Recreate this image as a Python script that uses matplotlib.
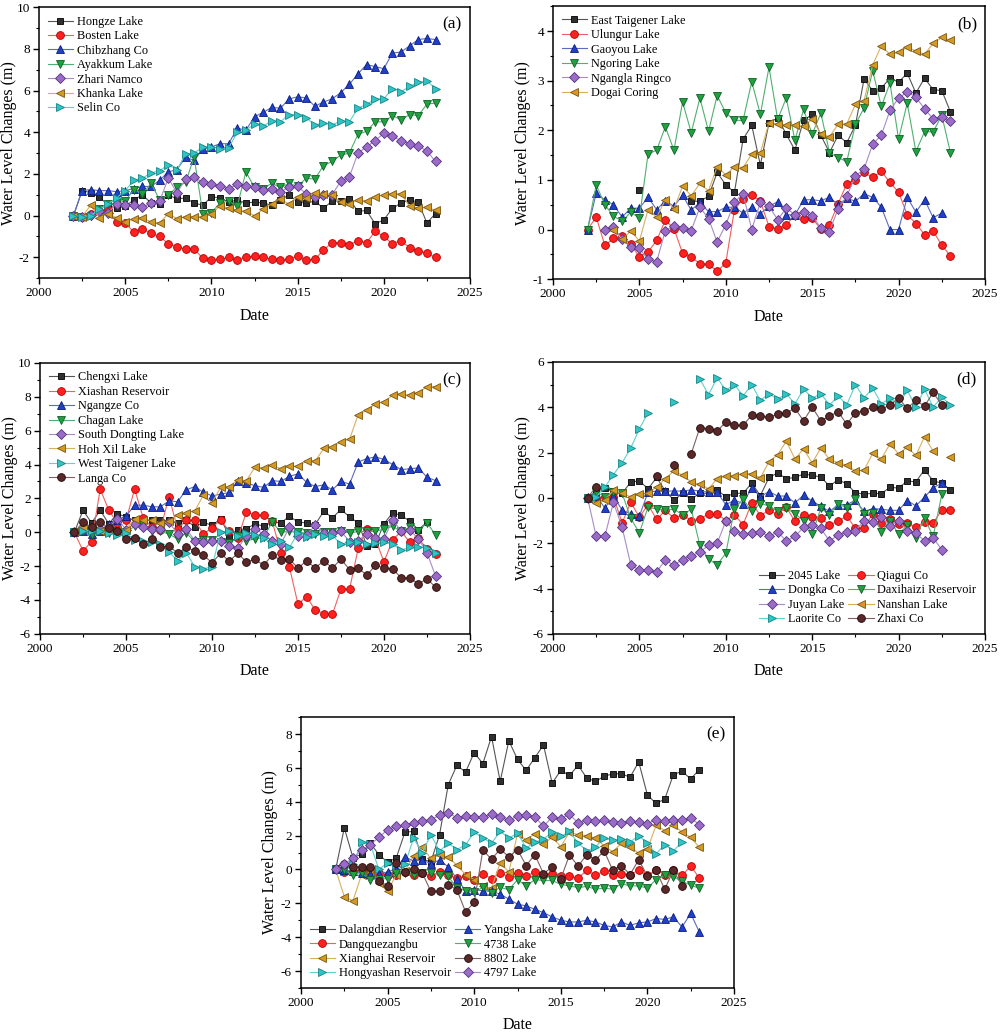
import numpy as np
import matplotlib
matplotlib.use('Agg')
import matplotlib.pyplot as plt
from matplotlib.ticker import MultipleLocator

plt.rcParams['font.family'] = 'serif'
plt.rcParams['font.serif'] = ['Liberation Serif', 'DejaVu Serif']
plt.rcParams['axes.unicode_minus'] = False

nan = np.nan
# half-yearly sampling, 2002.0 .. 2023.0 (43 points); rows below hold 5 years each
years = np.arange(2002, 2023.01, 0.5)

# ---------------- panel (a) ----------------
hongze = [0, 1.2, 1.1, 0.9, 0.5, 0.35, 0.45, 0.75, 1.0, 0.6,
          0.55, 1.0, 0.8, 0.85, 0.6, 0.5, 0.9, 0.85, 0.65, 0.75,
          0.6, 0.65, 0.6, 0.5, 0.75, 1.0, 0.65, 0.6, 0.7, 0.35,
          0.7, 0.7, 0.8, 0.2, 0.25, -0.4, -0.2, 0.35, 0.6, 0.75,
          0.65, -0.35, 0.1]
bosten = [0, -0.05, 0.1, 0.2, 0.3, -0.3, -0.35, -0.8, -0.65, -0.85,
          -1.0, -1.35, -1.5, -1.6, -1.6, -2.05, -2.15, -2.1, -2.0, -2.15,
          -2.0, -1.95, -2.0, -2.1, -2.15, -2.1, -1.95, -2.15, -2.1, -1.65,
          -1.3, -1.3, -1.4, -1.2, -1.3, -0.75, -1.0, -1.35, -1.2, -1.55,
          -1.7, -1.8, -2.0]
chibzhang = [0, 1.2, 1.25, 1.2, 1.2, 1.15, 1.2, 1.3, 1.4, 1.4,
             1.7, 2.1, 2.2, 2.8, 2.65, 3.2, 3.3, 3.45, 3.45, 4.2,
             4.1, 4.75, 4.95, 5.2, 5.15, 5.6, 5.7, 5.65, 5.25, 5.45,
             5.6, 5.9, 6.3, 6.8, 7.25, 7.15, 7.05, 7.8, 7.85, 8.15,
             8.45, 8.5, 8.45]
ayakkum = [0, -0.05, 0.0, 0.3, 0.55, 0.6, 0.7, 1.25, 1.05, 1.55,
           0.75, 1.0, 1.35, 1.6, 2.8, 0.1, 0.15, 0.6, 0.7, 0.45,
           2.1, 1.35, 1.3, 1.55, 1.35, 1.55, 1.4, 1.8, 1.75, 2.4,
           2.6, 2.9, 3.0, 3.9, 4.05, 4.5, 4.5, 4.8, 4.6, 4.85,
           4.8, 5.35, 5.4]
zhari = [0, -0.05, 0.05, 0.2, 0.15, 0.55, 0.5, 0.5, 0.4, 0.6,
         0.7, 1.8, 1.1, 1.75, 1.85, 1.6, 1.5, 1.4, 1.3, 1.5,
         1.4, 1.35, 1.25, 1.3, 1.15, 1.35, 1.4, 1.05, 0.9, 1.0,
         1.0, 1.65, 1.85, 3.0, 3.3, 3.6, 3.95, 3.8, 3.6, 3.45,
         3.35, 3.1, 2.6]
khanka = [0, -0.05, 0.5, -0.1, 0.1, -0.1, -0.3, -0.15, -0.1, -0.3,
          -0.35, 0.1, -0.15, -0.05, -0.05, -0.05, 0.1, 0.45, 0.35, 0.25,
          0.2, 0.0, 0.3, 0.55, 0.8, 0.55, 0.9, 0.85, 1.1, 1.05,
          1.0, 0.65, 0.55, 0.75, 0.7, 0.9, 1.0, 1.05, 1.05, 0.45,
          0.35, 0.4, 0.25]
selin = [0, -0.05, 0.0, 0.3, 0.55, 0.85, 1.2, 1.7, 1.8, 2.05,
         2.15, 2.45, 2.2, 2.95, 3.0, 3.3, 3.3, 3.2, 3.25, 4.0,
         4.1, 4.4, 4.3, 4.55, 4.5, 4.85, 4.85, 4.7, 4.35, 4.45,
         4.35, 4.55, 4.5, 5.15, 5.35, 5.6, 5.6, 6.1, 5.95, 6.2,
         6.4, 6.45, 6.1]

# ---------------- panel (b) ----------------
east_taigener = [0, nan, nan, nan, nan, nan, 0.8, nan, nan, nan,
                 nan, nan, 0.57, 0.57, 0.67, 1.15, 0.9, 0.75, 1.82, 2.1,
                 1.3, 2.15, 2.25, 1.92, 1.6, 2.2, 2.32, 1.9, 1.55, 1.9,
                 1.75, 2.1, 3.03, 2.8, 2.85, 3.05, 2.97, 3.15, 2.75, 3.05,
                 2.82, 2.8, 2.37]
ulungur = [0, 0.25, -0.32, -0.18, -0.13, -0.3, -0.55, -0.45, -0.22, 0.19,
           0.02, -0.48, -0.55, -0.69, -0.7, -0.84, -0.67, 0.4, 0.62, 0.7,
           0.57, 0.06, 0.01, 0.09, 0.3, 0.22, 0.23, 0.01, 0.1, 0.52,
           0.92, 1.0, 1.15, 1.05, 1.17, 0.95, 0.75, 0.3, 0.12, -0.1,
           -0.03, -0.32, -0.53]
gaoyou = [0, 0.73, 0.6, 0.5, 0.25, 0.43, 0.43, 0.65, 0.4, 0.58,
          0.47, 0.69, 0.39, 0.55, 0.36, 0.36, 0.45, 0.45, 0.33, 0.45,
          0.32, 0.47, 0.56, 0.3, 0.29, 0.6, 0.6, 0.58, 0.65, 0.5,
          0.63, 0.57, 0.72, 0.65, 0.45, 0.0, 0.0, 0.65, 0.35, 0.6,
          0.24, 0.33, nan]
ngoring = [0, 0.9, 0.5, 0.27, 0.17, 0.35, 0.23, 1.52, 1.6, 2.07,
           1.6, 2.57, 1.95, 2.65, 1.98, 2.7, 2.35, 2.2, 2.2, 2.98,
           2.32, 3.27, 2.22, 2.65, 1.8, 2.42, 1.92, 2.35, 1.55, 1.45,
           1.37, 2.12, 2.45, 3.2, 2.48, 2.95, 1.82, 2.55, 1.57, 1.97,
           1.97, 2.3, 1.55]
ngangla = [nan, nan, 0.0, 0.05, -0.2, -0.35, -0.38, -0.6, -0.65, -0.02,
           0.08, 0.04, -0.02, 0.45, 0.22, -0.25, 0.1, 0.55, 0.72, 0.0,
           0.55, 0.47, 0.2, 0.43, 0.3, 0.35, 0.28, 0.03, -0.04, 0.42,
           0.67, 1.08, 1.22, 1.72, 1.9, 2.4, 2.65, 2.77, 2.67, 2.43,
           2.23, 2.27, 2.18]
dogai = [nan, nan, nan, 0.0, -0.2, -0.03, -0.23, 0.4, 0.25, 0.6,
         0.42, 0.87, 0.68, 0.93, 0.78, 1.27, 1.1, 1.27, 1.25, 1.52,
         1.55, 2.15, 2.13, 2.1, 2.1, 2.08, 2.22, 1.93, 1.87, 2.12,
         2.13, 2.52, 2.6, 3.32, 3.7, 3.53, 3.57, 3.67, 3.6, 3.53,
         3.75, 3.87, 3.82]

# ---------------- panel (c) ----------------
chengxi = [0, 1.3, 0.55, 1.3, 0.5, 1.1, 0.9, 0.7, 0.75, 0.7,
           0.7, 0.7, 0.55, 0.75, 0.3, 0.6, 0.4, 0.8, -0.2, 0.15,
           0.2, 0.5, 0.35, 0.6, 0.55, 0.95, 0.6, 0.55, 0.45, 1.25,
           0.85, 1.35, 0.9, 0.55, -0.8, -0.7, 0.5, 1.15, 1.0, 0.65,
           0.15, 0.6, nan]
xiashan = [0, -1.1, -0.55, 2.55, 1.3, 0.55, 0.7, 2.55, 0.85, 0.3,
           0.15, 2.1, 0.2, 0.7, 0.7, -0.1, 0.25, 0.75, 0.05, -0.35,
           1.2, 1.0, 1.0, 0.65, -1.2, -2.05, -4.25, -3.8, -4.6, -4.8,
           -4.85, -3.35, -3.35, -0.95, 0.2, -0.4, -1.75, -0.45, 0.05, -0.6,
           -0.35, -1.0, -1.3]
ngangze = [0, 0.05, -0.1, 0.1, 0.5, 0.75, 0.95, 1.6, 1.6, 1.5,
           1.5, 1.85, 1.8, 2.5, 2.7, 2.35, 2.15, 2.25, 2.35, 3.0,
           2.9, 2.75, 2.65, 3.05, 3.0, 3.3, 3.45, 2.95, 2.7, 2.8,
           2.5, 3.0, 2.85, 4.15, 4.35, 4.45, 4.3, 4.0, 3.7, 3.75,
           3.8, 3.25, 3.05]
chagan = [0, 0.05, -0.15, 0.05, -0.05, 0.1, 0.0, 0.35, 0.4, 0.05,
          0.05, -0.1, -0.4, -0.05, -0.55, -0.45, -0.45, -0.55, -0.65, -0.25,
          -0.5, -0.4, -0.3, 0.6, 0.0, 0.05, 0.0, -0.05, -0.1, 0.0,
          0.0, 0.1, -0.05, 0.05, 0.05, 0.05, 0.2, 0.35, 0.05, 0.3,
          0.05, 0.55, -0.15]
dongting = [0, 0.2, 0.2, 0.2, 0.3, 0.8, 0.15, 0.5, 0.3, 0.2,
            0.2, 0.6, -0.1, 0.2, -0.5, -0.6, -0.5, -0.5, -0.8, -0.95,
            -0.2, 0.2, -0.1, -0.5, -0.7, 0.3, -0.25, -0.15, 0.4, -0.05,
            -0.05, 0.05, -0.55, -0.5, -0.1, -0.35, -0.4, 0.75, 0.05, 0.15,
            -0.4, -1.2, -2.6]
hohxil = [0, 0.3, 0.25, 0.05, 0.2, 0.15, 0.15, 0.8, 0.7, 0.7,
          0.55, 0.65, 1.0, 1.15, 1.25, 2.2, 1.75, 2.65, 2.7, 3.1,
          3.05, 3.85, 3.8, 3.95, 3.75, 3.9, 3.9, 4.2, 4.2, 4.95,
          5.05, 5.35, 5.5, 6.95, 7.2, 7.6, 7.7, 8.1, 8.15, 8.1,
          8.25, 8.6, 8.6]
west_taigener = [0, 0.1, 0.1, 0.05, -0.05, -0.15, -0.05, -0.45, -0.5, -0.6,
                 -0.7, -1.15, -1.7, -1.2, -2.05, -2.15, -2.05, 0.0, 0.1, -0.25,
                 -0.05, -0.15, -0.35, -0.7, -0.5, -0.9, -0.05, -0.3, -0.1, -0.2,
                 -0.2, -0.7, -0.6, -0.55, -0.7, -0.65, -0.6, -0.7, -1.05, -0.9,
                 -0.85, -0.95, -1.2]
langa = [0, 0.6, 0.3, 0.6, 0.25, 0.1, -0.4, -0.35, -0.7, -0.4,
         -0.9, -0.8, -1.25, -0.9, -1.1, -1.35, -1.8, -1.25, -1.7, -1.25,
         -1.75, -1.6, -1.95, -1.35, -1.65, -1.6, -2.1, -1.7, -2.1, -1.7,
         -2.1, -1.6, -2.2, -2.1, -2.55, -1.95, -2.1, -2.15, -2.7, -2.7,
         -3.05, -2.75, -3.25]

# ---------------- panel (d) ----------------
lake2045 = [0, 0.25, 0.45, 0.3, 0.2, 0.7, 0.75, 0.4, 0.9, 0.3,
            -0.1, 0.2, -0.05, 0.2, 0.2, 0.35, 0.05, 0.2, 0.2, 0.65,
            0.1, 0.9, 1.1, 0.85, 0.9, 1.05, 1.0, 0.92, 0.52, 0.8,
            0.62, 0.22, 0.17, 0.2, 0.18, 0.47, 0.43, 0.75, 0.7, 1.25,
            0.75, 0.65, 0.35]
qiagui = [0, 0.0, 0.05, 0.05, -1.1, -0.2, -0.85, -0.3, -0.95, -0.55,
          -0.9, -0.75, -1.0, -0.95, -0.7, -0.7, -1.0, -0.75, -1.18, -0.22,
          -0.78, -0.55, -0.73, -0.41, -1.03, -0.75, -0.84, -0.9, -1.19, -1.04,
          -0.8, -1.35, -1.32, -0.7, -1.1, -0.95, -1.15, -1.1, -1.3, -1.05,
          -1.1, -0.55, -0.55]
dongka = [0, 0.1, -0.45, 0.1, -0.55, -0.7, -0.8, 0.25, 0.3, 0.3,
          0.3, 0.3, 0.35, 0.3, 0.25, 0.25, -0.3, -0.1, -0.25, 0.45,
          0.05, 0.28, 0.08, 0.08, -0.22, 0.12, -0.14, -0.37, -0.6, -0.3,
          -0.3, -0.1, -0.6, -0.47, -0.5, -0.55, -0.55, -0.12, -0.35, 0.03,
          0.45, 0.65, nan]
daxihaizi = [0, 0.25, 0.05, 0.25, 0.2, -0.9, -1.55, -0.4, -0.5, -0.55,
             -0.5, -0.75, -0.5, -2.1, -2.7, -2.95, -2.45, -0.5, -0.05, -0.6,
             -0.25, -0.35, -0.6, -0.45, -0.7, -1.0, -1.6, -0.45, -0.75, -0.25,
             -0.45, -0.05, -0.7, -0.65, -1.5, -1.0, -1.6, -1.2, -1.75, -0.9,
             -1.7, 0.15, nan]
juyan = [0, -1.7, -1.7, -0.2, -1.3, -2.95, -3.2, -3.2, -3.25, -2.75,
         -2.97, -2.72, -2.55, -2.4, -2.08, -2.0, -1.03, -1.45, -1.6, -1.55,
         -1.5, -1.7, -1.5, -1.9, -1.7, -1.3, -1.2, -1.35, -1.9, -1.65,
         -1.5, -1.45, -1.0, -1.05, -0.85, -1.25, -1.0, -1.45, -1.55, -1.9,
         -1.75, -2.3, nan]
nanshan = [0, -0.22, -0.1, 0.35, 0.2, 0.05, 0.15, 0.2, 0.5, 0.85,
           1.2, 1.0, 0.7, 0.6, 0.4, 0.85, 0.95, 0.98, 1.07, 1.07,
           0.88, 1.6, 1.9, 2.5, 1.72, 2.16, 1.54, 2.2, 1.7, 1.55,
           1.44, 1.18, 1.22, 1.96, 1.72, 2.38, 1.94, 2.24, 1.87, 2.7,
           2.06, nan, 1.8]
laorite = [0, 0.05, 0.47, 1.03, 1.55, 2.2, 3.05, 3.75, nan, nan,
           4.25, nan, nan, 5.25, 4.55, 5.3, 4.75, 5.0, 4.5, 5.0,
           4.3, 4.6, 4.35, 4.6, 4.15, 4.8, 4.4, 4.6, 4.1, 4.5,
           4.1, 5.0, 4.4, 4.85, 4.15, 4.4, 4.1, 4.75, 4.0, 4.8,
           4.0, 4.45, 4.1]
zhaxi = [0, 0.5, nan, nan, nan, nan, nan, nan, 0.95, nan,
         1.45, nan, 1.95, 3.1, 3.05, 2.95, 3.35, 3.2, 3.2, 3.65,
         3.6, 3.55, 3.7, 3.75, 3.95, 3.4, 4.0, 3.4, 3.6, 3.8,
         3.25, 3.75, 3.85, 4.0, 3.9, 4.1, 4.4, 3.95, 4.3, 4.05,
         4.65, 4.1, nan]

# ---------------- panel (e) ----------------
dalangdian = [0, 2.45, 0.7, 0.9, 1.55, 0.87, 0.43, 0.68, 2.2, 2.25,
              0.6, 0.45, 2.05, 5.0, 6.15, 5.75, 6.9, 6.25, 7.85, 5.2,
              7.6, 6.5, 5.85, 6.6, 7.35, 5.1, 5.85, 5.55, 6.15, 5.4,
              5.2, 5.5, 5.65, 5.65, 5.45, 6.35, 4.4, 3.9, 4.15, 5.6,
              5.8, 5.35, 5.9]
dangque = [0, -0.15, -0.1, -0.05, -0.15, -0.2, -0.3, -0.3, -0.15, -0.3,
           -0.2, -0.4, -0.15, -0.35, -0.5, -0.4, -0.6, -0.25, -0.55, -0.2,
           -0.45, -0.2, -0.4, -0.15, -0.3, -0.25, -0.4, -0.4, -0.5, -0.05,
           -0.35, -0.1, -0.35, -0.25, -0.3, -0.05, -0.35, -0.05, -0.3, -0.05,
           -0.35, 0.2, -0.5]
xianghai = [0, -1.6, -1.85, -0.3, -0.15, -0.8, -1.3, -0.3, -0.1, 0.8,
            1.3, 0.65, 0.85, 0.75, 0.25, -0.3, -0.6, -1.0, -1.1, 0.4,
            -0.15, 2.1, 1.75, 2.1, 1.5, 1.9, 1.35, 2.2, 2.05, 2.0,
            1.85, 1.4, 1.05, 1.55, 1.35, 0.95, 1.2, 2.6, 2.3, 2.65,
            2.2, 1.9, 1.3]
hongyashan = [0, -0.1, 0.3, 1.65, 1.5, 0.0, 0.4, 0.05, 0.3, 1.85,
              1.0, 2.05, 1.08, 1.55, 1.17, 1.45, 2.2, 1.85, 1.55, 2.25,
              1.85, 2.15, 1.27, 1.6, 1.8, 2.2, 1.95, 2.25, 1.55, 1.1,
              1.33, 1.85, 1.72, 1.8, 1.62, 2.0, 1.55, 0.92, 1.46, 1.1,
              1.62, nan, nan]
yangsha = [0, -0.05, -0.1, -0.2, -0.25, -0.25, -0.15, 0.05, 0.75, 0.5,
           0.55, 0.35, 0.55, 0.15, -0.55, -1.25, -1.2, -1.25, -1.3, -1.45,
           -1.75, -2.05, -2.15, -2.35, -2.55, -2.8, -3.0, -3.1, -3.1, -3.0,
           -3.1, -3.3, -3.4, -3.1, -3.3, -3.15, -3.1, -2.9, -2.95, -2.8,
           -3.4, -2.6, -3.7]
lake4738 = [0, -0.05, -0.35, -0.2, -0.6, -0.55, -0.55, -0.2, -0.2, -0.3,
            -0.2, -0.2, -0.3, -0.4, -1.1, -1.25, -1.35, -1.05, -1.4, -1.05,
            -1.2, -0.6, -0.97, -0.6, -0.65, -0.65, -0.88, -0.97, -1.07, -1.0,
            -1.17, -1.1, -1.17, -0.84, -0.97, -0.97, -1.1, -0.6, -0.35, -0.45,
            -0.68, -0.94, -1.1]
lake8802 = [0, 0.3, 0.15, 0.15, 0.15, -0.7, -0.95, 0.4, -0.15, 0.05,
            -0.2, -1.3, -1.3, -0.9, -1.2, -2.5, -1.95, 1.15, 0.6, 1.2,
            0.75, 1.17, 0.23, 0.88, -0.25, 0.15, -0.55, 0.85, 0.2, 0.88,
            0.55, 1.1, -0.05, 0.23, -0.3, 0.58, -0.4, -0.05, -1.17, -0.05,
            -0.97, nan, nan]
lake4797 = [0, 0.3, 0.68, 1.13, 1.45, 1.9, 2.35, 2.55, 2.65, 2.75,
            2.85, 2.95, 3.2, 3.35, 3.05, 3.15, 3.1, 3.1, 3.25, 3.1,
            2.9, 3.15, 3.2, 3.1, 2.55, 3.1, 3.0, 3.25, 2.75, 2.95,
            2.85, 2.9, 2.8, 2.75, 2.85, 2.8, 2.7, 2.95, 2.85, 2.95,
            2.9, 3.05, 2.65]

# marker face, marker edge, line colour
COLORS = {
    'k': ('#2f2f2f', '#000000', '#555555'),
    'r': ('#ff2020', '#b00000', '#f06060'),
    'b': ('#2040c8', '#0c1c80', '#5a6cc0'),
    'g': ('#20a040', '#0c6024', '#50b070'),
    'p': ('#9a6cc8', '#553380', '#a88cc8'),
    'o': ('#d39a26', '#7a5510', '#d8b060'),
    'c': ('#30c4c4', '#158585', '#60d0d0'),
    'm': ('#5a2828', '#200808', '#806060'),
}
MSIZE = {'s': 5.0, 'o': 5.6, '^': 5.9, 'v': 5.9, 'D': 4.8, '<': 5.9, '>': 5.9}


def draw(ax, series, ylim, ymaj, ymin, tag, leg):
    for label, vals, mk, c in series:
        face, edge, line = COLORS[c]
        ax.plot(years, vals, color=line, lw=0.8, marker=mk, ms=MSIZE[mk],
                mfc=face, mec=edge, mew=0.6, label=label)
    ax.set_xlim(2000, 2025)
    ax.set_ylim(*ylim)
    ax.xaxis.set_major_locator(MultipleLocator(5))
    ax.xaxis.set_minor_locator(MultipleLocator(2.5))
    ax.yaxis.set_major_locator(MultipleLocator(ymaj))
    ax.yaxis.set_minor_locator(MultipleLocator(ymin))
    ax.tick_params(which='both', direction='out', top=False, right=False,
                   labelsize=9.5, pad=2.5)
    ax.tick_params(which='major', length=4, width=1)
    ax.tick_params(which='minor', length=2.5, width=0.8)
    for s in ax.spines.values():
        s.set_linewidth(1.1)
    ax.set_xlabel('Date', fontsize=11.5, labelpad=6)
    ax.set_ylabel('Water Level Changes (m)', fontsize=11.5)
    ax.yaxis.set_label_coords(-0.052, 0.5)
    ax.text(0.958, 0.935, tag, transform=ax.transAxes, fontsize=12.5,
            ha='center', va='center')
    handles, labels = ax.get_legend_handles_labels()
    order = leg.pop('order', list(range(len(handles))))
    ax.legend([handles[i] for i in order], [labels[i] for i in order],
              frameon=False, fontsize=8.8, handlelength=2.1, handletextpad=0.3,
              labelspacing=0.2, borderaxespad=0.3, **leg)


fig = plt.figure(figsize=(10, 10.34), dpi=100)

ax_a = fig.add_axes([0.039, 0.731, 0.431, 0.262])
draw(ax_a, [('Hongze Lake', hongze, 's', 'k'),
            ('Bosten Lake', bosten, 'o', 'r'),
            ('Chibzhang Co', chibzhang, '^', 'b'),
            ('Ayakkum Lake', ayakkum, 'v', 'g'),
            ('Zhari Namco', zhari, 'D', 'p'),
            ('Khanka Lake', khanka, '<', 'o'),
            ('Selin Co', selin, '>', 'c')],
     (-3, 10), 2, 1, '(a)', dict(loc='upper left'))

ax_b = fig.add_axes([0.553, 0.730, 0.432, 0.264])
draw(ax_b, [('East Taigener Lake', east_taigener, 's', 'k'),
            ('Ulungur Lake', ulungur, 'o', 'r'),
            ('Gaoyou Lake', gaoyou, '^', 'b'),
            ('Ngoring Lake', ngoring, 'v', 'g'),
            ('Ngangla Ringco', ngangla, 'D', 'p'),
            ('Dogai Coring', dogai, '<', 'o')],
     (-1, 4.5), 1, 0.5, '(b)', dict(loc='upper left'))

ax_c = fig.add_axes([0.040, 0.387, 0.430, 0.262])
draw(ax_c, [('Chengxi Lake', chengxi, 's', 'k'),
            ('Xiashan Reservoir', xiashan, 'o', 'r'),
            ('Ngangze Co', ngangze, '^', 'b'),
            ('Chagan Lake', chagan, 'v', 'g'),
            ('South Dongting Lake', dongting, 'D', 'p'),
            ('Hoh Xil Lake', hohxil, '<', 'o'),
            ('West Taigener Lake', west_taigener, '>', 'c'),
            ('Langa Co', langa, 'o', 'm')],
     (-6, 10), 2, 1, '(c)', dict(loc='upper left'))

ax_d = fig.add_axes([0.553, 0.387, 0.432, 0.263])
draw(ax_d, [('2045 Lake', lake2045, 's', 'k'),
            ('Qiagui Co', qiagui, 'o', 'r'),
            ('Dongka Co', dongka, '^', 'b'),
            ('Daxihaizi Reservoir', daxihaizi, 'v', 'g'),
            ('Juyan Lake', juyan, 'D', 'p'),
            ('Nanshan Lake', nanshan, '<', 'o'),
            ('Laorite Co', laorite, '>', 'c'),
            ('Zhaxi Co', zhaxi, 'o', 'm')],
     (-6, 6), 2, 1, '(d)',
     dict(loc='lower right', ncol=2, columnspacing=0.3,
          order=[0, 2, 4, 6, 1, 3, 5, 7]))

ax_e = fig.add_axes([0.301, 0.0445, 0.433, 0.262])
draw(ax_e, [('Dalangdian Reservior', dalangdian, 's', 'k'),
            ('Dangquezangbu', dangque, 'o', 'r'),
            ('Xianghai Reservoir', xianghai, '<', 'o'),
            ('Hongyashan Reservoir', hongyashan, '>', 'c'),
            ('Yangsha Lake', yangsha, '^', 'b'),
            ('4738 Lake', lake4738, 'v', 'g'),
            ('8802 Lake', lake8802, 'o', 'm'),
            ('4797 Lake', lake4797, 'D', 'p')],
     (-7, 9), 2, 1, '(e)',
     dict(loc='lower left', ncol=2, columnspacing=0.3))

fig.savefig('out.png', dpi=100)
